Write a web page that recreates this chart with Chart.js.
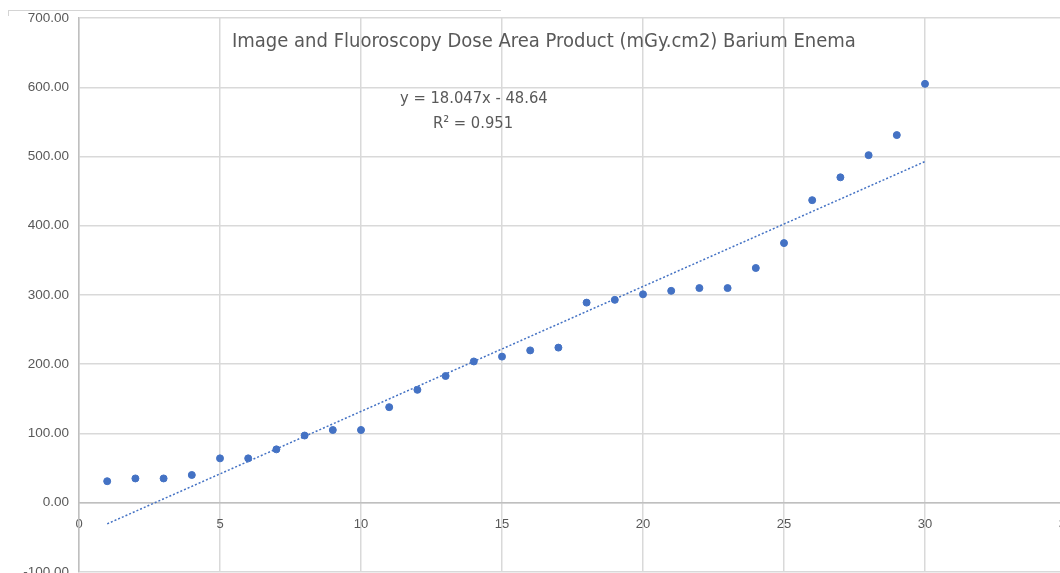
<!DOCTYPE html>
<html>
<head>
<meta charset="utf-8">
<script src="https://cdn.jsdelivr.net/npm/chart.js@4"></script>
<style>
  body { margin: 0; overflow: hidden; background: #fff; width: 1060px; height: 573px; position: relative; }
  #doseChart { position: absolute; left: 0; top: 0; }
  .txt { position: absolute; color: #595959; font-family: "Liberation Sans Narrow", "DejaVu Sans Condensed", "Liberation Sans", sans-serif; white-space: nowrap; }
  #title { left: 232px; top: 28px; font-size: 20px; }
  #eq { left: 400px; top: 88px; font-size: 16.4px; }
  #r2 { left: 433px; top: 113px; font-size: 16.4px; }
  #frame { position: absolute; left: 8px; top: 10px; width: 492px; height: 5px; border-top: 1px solid #d4d4d4; border-left: 1px solid #d4d4d4; }
</style>
</head>
<body>
<div id="frame"></div>
<canvas id="doseChart" width="1100" height="590"></canvas>
<div class="txt" id="title">Image and Fluoroscopy Dose Area Product (mGy.cm2) Barium Enema</div>
<div class="txt" id="eq">y = 18.047x - 48.64</div>
<div class="txt" id="r2">R² = 0.951</div>
<script>
// examination number (x) and dose area product (y)
const examNo = [1, 2, 3, 4, 5, 6, 7, 8, 9, 10,
  11, 12, 13, 14, 15, 16, 17, 18, 19, 20,
  21, 22, 23, 24, 25, 26, 27, 28, 29, 30];
const dapValues = [31, 35, 35, 40, 64, 64, 77, 97, 105, 105,
  138, 163, 183, 204, 211, 220, 224, 289, 293, 301,
  306, 310, 310, 339, 375, 437, 470, 502, 531, 605];

// linear trendline as printed on the chart
const trendSlope = 18.047;
const trendIntercept = -48.64;
const trendRange = [1, 30];

const blue = "#4472C4";
const gridColor = "#d9d9d9";
const labelColor = "#595959";

const points = examNo.map((x, i) => ({ x, y: dapValues[i] }));
const trend = trendRange.map(x => ({ x, y: trendSlope * x + trendIntercept }));

new Chart(document.getElementById("doseChart"), {
  type: "scatter",
  data: {
    datasets: [
      {
        type: "line",
        data: trend,
        borderColor: blue,
        borderWidth: 1.5,
        borderDash: [2, 2],
        pointRadius: 0,
        fill: false
      },
      {
        data: points,
        backgroundColor: blue,
        borderColor: blue,
        pointRadius: 3.5
      }
    ]
  },
  options: {
    responsive: false,
    animation: false,
    // canvas is wider than the window so the x=35 edge sits just off-screen
    layout: { padding: { left: 0, right: 34, top: 18, bottom: 0 } },
    plugins: {
      legend: { display: false },
      tooltip: { enabled: false }
    },
    scales: {
      x: {
        type: "linear",
        position: { y: 0 },
        min: 0,
        max: 35,
        ticks: {
          stepSize: 5,
          padding: 14,
          color: labelColor,
          font: { family: "Liberation Sans Narrow, Liberation Sans, sans-serif", size: 13 }
        },
        grid: { color: gridColor, lineWidth: 1.5, drawTicks: false },
        border: { color: "#bfbfbf", width: 1.5 }
      },
      y: {
        min: -100,
        max: 700,
        afterFit: s => { s.width = 79; },
        ticks: {
          stepSize: 100,
          padding: 10,
          color: labelColor,
          font: { family: "Liberation Sans Narrow, Liberation Sans, sans-serif", size: 13.5 },
          callback: v => v.toFixed(2)
        },
        grid: { color: gridColor, lineWidth: 1.5, drawTicks: false },
        border: { color: "#bfbfbf", width: 1.5 }
      }
    }
  }
});
</script>
</body>
</html>
